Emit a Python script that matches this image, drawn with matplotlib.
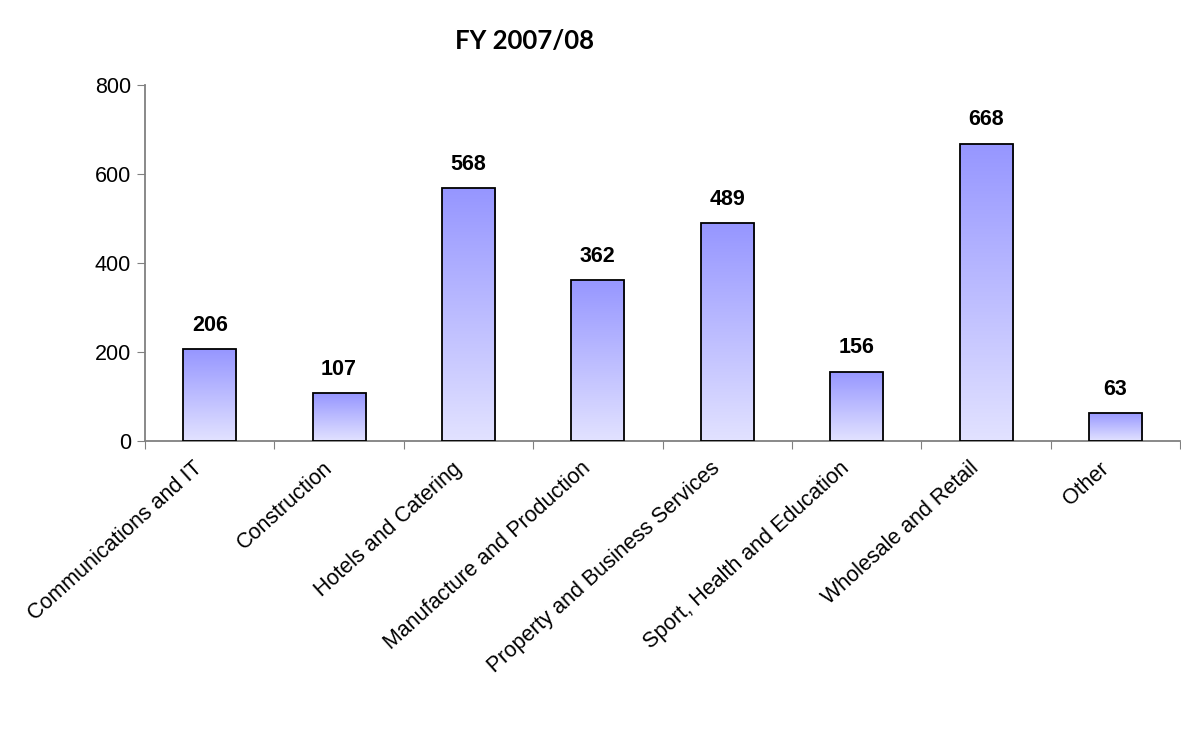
import numpy as np
import matplotlib.pyplot as plt
from matplotlib.colors import LinearSegmentedColormap

categories = [
    "Communications and IT",
    "Construction",
    "Hotels and Catering",
    "Manufacture and Production",
    "Property and Business Services",
    "Sport, Health and Education",
    "Wholesale and Retail",
    "Other",
]
values = [206, 107, 568, 362, 489, 156, 668, 63]

plt.rcParams["font.family"] = ["Liberation Sans", "DejaVu Sans"]

fig = plt.figure(figsize=(11.81, 7.32), dpi=100)
ax = fig.add_axes([0.1228, 0.3975, 0.8765, 0.4864])

x = np.arange(len(categories))
bars = ax.bar(x, values, width=0.41, facecolor="none", edgecolor="black",
              linewidth=1.3, zorder=3)

# vertical fill, light at the base and darker at the top of each bar
grad = LinearSegmentedColormap.from_list("barfill", ["#e2e2ff", "#9696ff"])
ramp = np.linspace(0, 1, 256).reshape(-1, 1)
for b in bars:
    x0, y0 = b.get_x(), b.get_y()
    im = ax.imshow(ramp, cmap=grad, origin="lower", aspect="auto",
                   extent=[x0, x0 + b.get_width(), y0, y0 + b.get_height()],
                   zorder=2)
    im.set_clip_path(b)

for xi, v in zip(x, values):
    ax.text(xi, v + 30, str(v), ha="center", va="bottom",
            fontsize=15.5, fontweight="bold")

ax.set_xlim(-0.5, len(categories) - 0.5)
ax.set_ylim(0, 800)
ax.set_yticks([0, 200, 400, 600, 800])
ax.tick_params(axis="y", labelsize=15.5, length=6, color="#808080", pad=4)

# ticks sit between categories, labels under each bar
ax.set_xticks(np.arange(len(categories) + 1) - 0.5)
ax.set_xticklabels([])
ax.tick_params(axis="x", length=6, color="#808080", direction="out")
for xi, name in zip(x, categories):
    ax.text(xi - 0.13, -38, name, rotation=42, rotation_mode="anchor",
            ha="right", va="top", fontsize=15.5)

for side in ["top", "right"]:
    ax.spines[side].set_visible(False)
ax.spines["left"].set_color("#808080")
ax.spines["bottom"].set_color("#808080")
ax.spines["left"].set_linewidth(1.3)
ax.spines["bottom"].set_linewidth(1.3)

fig.text(0.444, 0.944, "FY 2007/08", ha="center", va="center",
         fontsize=18.5, fontweight="bold", family=["Lato", "DejaVu Sans"])

fig.savefig("out.png", dpi=100)
